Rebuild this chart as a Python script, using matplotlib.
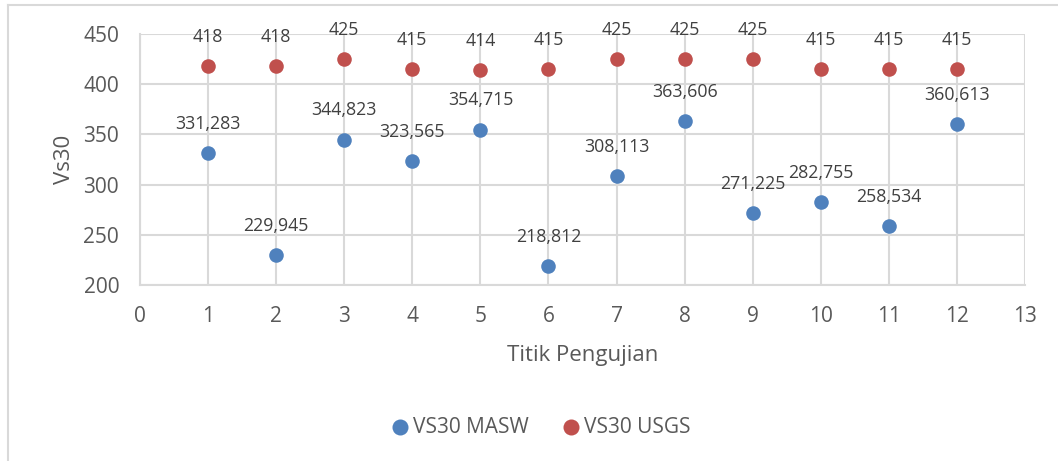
import matplotlib.pyplot as plt
from matplotlib.lines import Line2D

# data
titik = [1, 2, 3, 4, 5, 6, 7, 8, 9, 10, 11, 12]
vs30_masw = [331.283, 229.945, 344.823, 323.565, 354.715, 218.812,
             308.113, 363.606, 271.225, 282.755, 258.534, 360.613]
vs30_usgs = [418, 418, 425, 415, 414, 415, 425, 425, 425, 415, 415, 415]

blue = "#4F81BD"
red = "#C0504D"
grid_c = "#D9D9D9"
text_c = "#595959"

plt.rcParams['font.family'] = ['Open Sans', 'DejaVu Sans']

fig = plt.figure(figsize=(10.58, 4.61), dpi=100)
ax = fig.add_axes([140 / 1058, 1 - 285 / 461, 885 / 1058, 251 / 461])

ax.scatter(titik, vs30_masw, s=110, color=blue, zorder=3, label="VS30 MASW", linewidths=0)
ax.scatter(titik, vs30_usgs, s=110, color=red, zorder=3, label="VS30 USGS", linewidths=0)

for x, y in zip(titik, vs30_masw):
    ax.annotate(f"{y:.3f}".replace(".", ","), (x, y), xytext=(0, 21),
                textcoords="offset points", ha="center", va="center",
                fontsize=12.8, color="#404040")
for x, y in zip(titik, vs30_usgs):
    ax.annotate(f"{y}", (x, y), xytext=(0, 21),
                textcoords="offset points", ha="center", va="center",
                fontsize=12.8, color="#404040")

ax.set_xlim(0, 13)
ax.set_ylim(200, 450)
ax.set_xticks(range(0, 14))
ax.set_yticks(range(200, 451, 50))
ax.grid(True, color=grid_c, linewidth=1.5, zorder=0)
ax.set_axisbelow(True)
for s in ["top", "right"]:
    ax.spines[s].set_visible(False)
for s in ["bottom", "left"]:
    ax.spines[s].set_color(grid_c)
    ax.spines[s].set_linewidth(1.5)
ax.tick_params(length=0, labelsize=15, colors=text_c)
ax.tick_params(axis="x", pad=15)
ax.tick_params(axis="y", pad=15)
ax.set_xlabel("Titik Pengujian", fontsize=16, color=text_c, labelpad=13)
ax.set_ylabel("Vs30", fontsize=16, color=text_c, labelpad=6)

ax.legend(loc="center", bbox_to_anchor=(540 / 1058, 1 - 427 / 461),
          bbox_transform=fig.transFigure, ncol=2, frameon=False,
          fontsize=15, labelcolor=text_c, handletextpad=0.15,
          handlelength=1.0, columnspacing=1.5, markerscale=1.1)

# chart area border (left and top visible)
fig.add_artist(Line2D([8 / 1058, 8 / 1058], [0, 1 - 5 / 461],
                      transform=fig.transFigure, color=grid_c, linewidth=1.5))
fig.add_artist(Line2D([8 / 1058, 1], [1 - 5 / 461, 1 - 5 / 461],
                      transform=fig.transFigure, color=grid_c, linewidth=1.5))

fig.savefig("out.png", dpi=100)
